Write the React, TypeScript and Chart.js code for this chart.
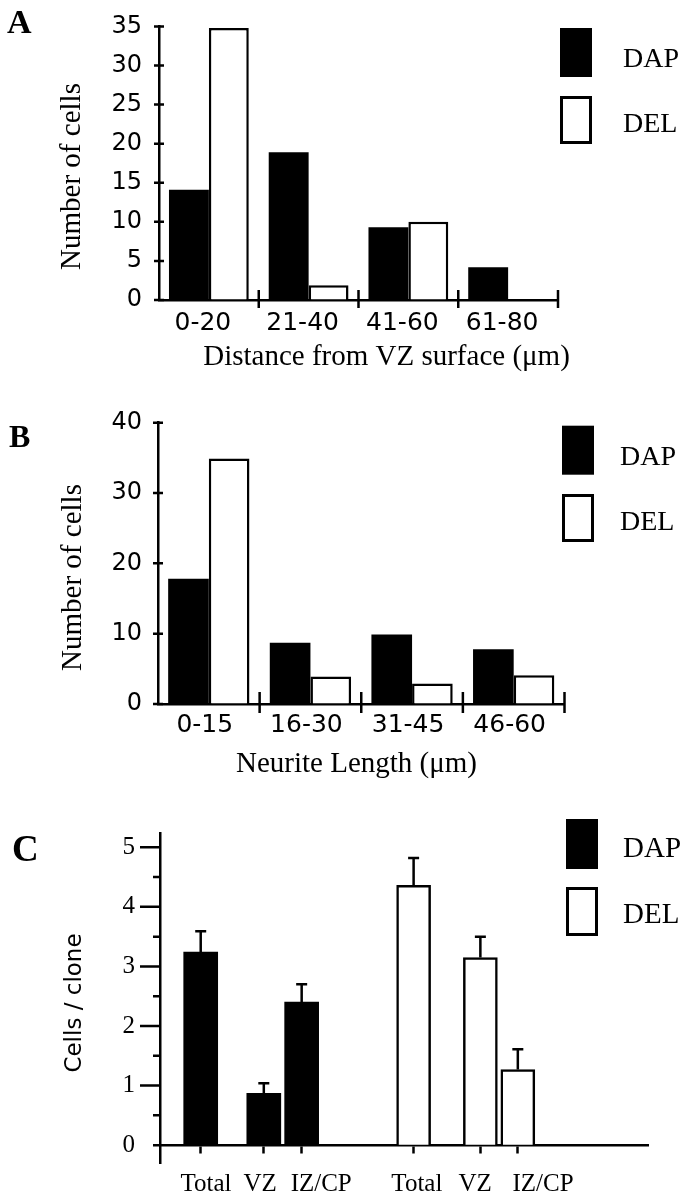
import React, { useEffect, useRef } from 'react';
import { Chart, registerables } from 'chart.js';

Chart.register(...registerables);

// ---------- DATA ----------
// Panel A
const distanceBins = ['0-20', '21-40', '41-60', '61-80'];
const dapDistance = [14.1, 18.9, 9.3, 4.2];
const delDistance = [34.8, 1.9, 10, 0];

// Panel B
const neuriteBins = ['0-15', '16-30', '31-45', '46-60'];
const dapNeurite = [17.8, 8.7, 9.9, 7.8];
const delNeurite = [34.9, 3.9, 2.9, 4.1];

// Panel C
const cloneCategories = ['Total', 'VZ', 'IZ/CP', 'Total', 'VZ', 'IZ/CP'];
const dapClone = [3.24, 0.87, 2.4];
const dapCloneErr = [0.35, 0.17, 0.3];
const delClone = [4.36, 3.15, 1.27];
const delCloneErr = [0.46, 0.35, 0.34];
const dapClonePositions = [1.0, 2.55, 3.48];
const delClonePositions = [6.23, 7.87, 8.79];
const cloneLabelPositions = [1.13, 2.46, 3.96, 6.31, 7.74, 9.41];
const cloneYTicks = [0, 0.5, 1, 1.5, 2, 2.5, 3, 3.5, 4, 4.5, 5];

const legendNames = ['DAP', 'DEL'];

// ---------- STYLE ----------
const SERIF = "'Liberation Serif', 'Times New Roman', serif";
const SANS = "'DejaVu Sans', sans-serif";
const LW = 2.5;

Chart.defaults.color = '#000';

type Decor = {
  letter: { text: string; x: number; y: number; size: number };
  yTitle: { text: string; x: number; y: number; font: string };
  xTitle?: { text: string; x: number; y: number; font: string };
  legend: {
    boxX: number;
    boxW: number;
    textX: number;
    font: string;
    items: { text: string; filled: boolean; y: number; h: number; textY: number }[];
  };
};

function decorPlugin(d: Decor) {
  return {
    id: 'decor',
    afterDraw(chart: any) {
      const ctx = chart.ctx as CanvasRenderingContext2D;
      ctx.save();
      ctx.fillStyle = '#000';
      ctx.strokeStyle = '#000';
      ctx.font = `bold ${d.letter.size}px ${SERIF}`;
      ctx.textAlign = 'left';
      ctx.textBaseline = 'alphabetic';
      ctx.fillText(d.letter.text, d.letter.x, d.letter.y);
      ctx.save();
      ctx.font = d.yTitle.font;
      ctx.translate(d.yTitle.x, d.yTitle.y);
      ctx.rotate(-Math.PI / 2);
      ctx.textAlign = 'center';
      ctx.textBaseline = 'alphabetic';
      ctx.fillText(d.yTitle.text, 0, 0);
      ctx.restore();
      if (d.xTitle) {
        ctx.font = d.xTitle.font;
        ctx.textAlign = 'center';
        ctx.textBaseline = 'alphabetic';
        ctx.fillText(d.xTitle.text, d.xTitle.x, d.xTitle.y);
      }
      const lg = d.legend;
      lg.items.forEach((it) => {
        if (it.filled) {
          ctx.fillRect(lg.boxX, it.y, lg.boxW, it.h);
        } else {
          ctx.lineWidth = 3;
          ctx.strokeRect(lg.boxX + 1.5, it.y + 1.5, lg.boxW - 3, it.h - 3);
        }
        ctx.font = lg.font;
        ctx.textAlign = 'left';
        ctx.textBaseline = 'alphabetic';
        ctx.fillText(it.text, lg.textX, it.textY);
      });
      ctx.restore();
    },
  };
}

function histTicksPlugin(yIn: number, yOut: number, xIn: number, xOut: number) {
  return {
    id: 'histTicks',
    afterDraw(chart: any) {
      const { ctx, chartArea: ca, scales } = chart;
      const x = scales.x;
      const y = scales.y;
      ctx.save();
      ctx.strokeStyle = '#000';
      ctx.lineWidth = LW;
      ctx.beginPath();
      y.ticks.forEach((t: any) => {
        const py = y.getPixelForValue(t.value);
        ctx.moveTo(ca.left - yOut, py);
        ctx.lineTo(ca.left + yIn, py);
      });
      const n = x.ticks.length;
      for (let k = 1; k <= n; k++) {
        const px = k < n ? (x.getPixelForValue(k - 1) + x.getPixelForValue(k)) / 2 : ca.right;
        ctx.moveTo(px, ca.bottom - xIn);
        ctx.lineTo(px, ca.bottom + xOut);
      }
      ctx.stroke();
      ctx.restore();
    },
  };
}

function histConfig(opts: {
  labels: string[];
  dap: number[];
  del: number[];
  yMax: number;
  yStep: number;
  padding: { left: number; right: number; top: number; bottom: number };
  yWidth: number;
  xLabelGap: number;
  xLabelShift: number;
  yLabelGap: number;
  plugins: any[];
}): any {
  return {
    type: 'bar',
    data: {
      labels: opts.labels,
      datasets: [
        { label: legendNames[0], data: opts.dap, backgroundColor: '#000', borderColor: '#000', borderWidth: 0 },
        { label: legendNames[1], data: opts.del, backgroundColor: '#fff', borderColor: '#000', borderWidth: LW },
      ],
    },
    options: {
      responsive: false,
      animation: false,
      devicePixelRatio: 1,
      layout: { padding: opts.padding },
      datasets: { bar: { categoryPercentage: 0.8, barPercentage: 1 } },
      plugins: { legend: { display: false }, tooltip: { enabled: false } },
      scales: {
        x: {
          type: 'category',
          offset: true,
          grid: { display: true, drawOnChartArea: false, offset: true, tickLength: opts.xLabelGap, tickColor: 'transparent' },
          border: { display: true, color: '#000', width: LW },
          ticks: {
            color: '#000',
            font: { family: SANS, size: 25 },
            padding: 0,
            labelOffset: opts.xLabelShift,
            maxRotation: 0,
            minRotation: 0,
            autoSkip: false,
          },
          afterFit: (s: any) => {
            s.height = 60;
          },
        },
        y: {
          min: 0,
          max: opts.yMax,
          grid: { display: true, drawOnChartArea: false, tickLength: 5, tickColor: 'transparent' },
          border: { display: true, color: '#000', width: LW },
          ticks: { stepSize: opts.yStep, color: '#000', font: { family: SANS, size: 24 }, padding: opts.yLabelGap },
          afterFit: (s: any) => {
            s.width = opts.yWidth;
          },
        },
      },
    },
    plugins: opts.plugins,
  };
}

function configA(): any {
  return histConfig({
    labels: distanceBins,
    dap: dapDistance,
    del: delDistance,
    yMax: 35,
    yStep: 5,
    padding: { left: 0, right: 130, top: 17, bottom: 30 },
    yWidth: 159,
    xLabelGap: 8,
    xLabelShift: -6,
    yLabelGap: 12,
    plugins: [
      histTicksPlugin(5, 5, 10, 8),
      decorPlugin({
        letter: { text: 'A', x: 7, y: 33, size: 34 },
        yTitle: { text: 'Number of cells', x: 80, y: 176.5, font: `29px ${SERIF}` },
        xTitle: { text: 'Distance from VZ surface (μm)', x: 386.5, y: 365, font: `29px ${SERIF}` },
        legend: {
          boxX: 560,
          boxW: 32,
          textX: 623,
          font: `28px ${SERIF}`,
          items: [
            { text: legendNames[0], filled: true, y: 28, h: 49, textY: 66.5 },
            { text: legendNames[1], filled: false, y: 96, h: 48, textY: 131.5 },
          ],
        },
      }),
    ],
  });
}

function configB(): any {
  return histConfig({
    labels: neuriteBins,
    dap: dapNeurite,
    del: delNeurite,
    yMax: 40,
    yStep: 10,
    padding: { left: 0, right: 123.5, top: 32.7, bottom: 26 },
    yWidth: 158,
    xLabelGap: 6,
    xLabelShift: -4,
    yLabelGap: 11,
    plugins: [
      histTicksPlugin(5, 5, 12, 9),
      decorPlugin({
        letter: { text: 'B', x: 9, y: 57, size: 32 },
        yTitle: { text: 'Number of cells', x: 81, y: 187.5, font: `29px ${SERIF}` },
        xTitle: { text: 'Neurite Length (μm)', x: 356.5, y: 382, font: `29px ${SERIF}` },
        legend: {
          boxX: 562,
          boxW: 32,
          textX: 620,
          font: `28px ${SERIF}`,
          items: [
            { text: legendNames[0], filled: true, y: 35.7, h: 49, textY: 75 },
            { text: legendNames[1], filled: false, y: 104, h: 48, textY: 140 },
          ],
        },
      }),
    ],
  });
}

const cloneExtrasPlugin = {
  id: 'cloneExtras',
  afterDraw(chart: any) {
    const { ctx, chartArea: ca, scales } = chart;
    const y = scales.y;
    ctx.save();
    ctx.strokeStyle = '#000';
    ctx.lineWidth = LW;
    ctx.beginPath();
    cloneYTicks.forEach((v) => {
      const py = y.getPixelForValue(v);
      const len = Number.isInteger(v) && v > 0 ? 20 : 7;
      ctx.moveTo(ca.left - len, py);
      ctx.lineTo(ca.left, py);
    });
    chart.data.datasets.forEach((ds: any, i: number) => {
      const meta = chart.getDatasetMeta(i);
      meta.data.forEach((bar: any, j: number) => {
        const v = ds.data[j].y + ds.errors[j];
        const top = y.getPixelForValue(v);
        ctx.moveTo(bar.x, bar.y);
        ctx.lineTo(bar.x, top);
        ctx.moveTo(bar.x - 5.5, top);
        ctx.lineTo(bar.x + 5.5, top);
      });
    });
    ctx.stroke();
    ctx.restore();
  },
};

function configC(): any {
  return {
    type: 'bar',
    data: {
      datasets: [
        {
          label: legendNames[0],
          data: dapClone.map((v, i) => ({ x: dapClonePositions[i], y: v })),
          errors: dapCloneErr,
          backgroundColor: '#000',
          borderColor: '#000',
          borderWidth: 0,
          grouped: false,
          barThickness: 34,
        },
        {
          label: legendNames[1],
          data: delClone.map((v, i) => ({ x: delClonePositions[i], y: v })),
          errors: delCloneErr,
          backgroundColor: '#fff',
          borderColor: '#000',
          borderWidth: LW,
          grouped: false,
          barThickness: 34,
        },
      ],
    },
    options: {
      responsive: false,
      animation: false,
      devicePixelRatio: 1,
      layout: { padding: { left: 0, right: 39.5, top: 43, bottom: 37 } },
      plugins: { legend: { display: false }, tooltip: { enabled: false } },
      scales: {
        x: {
          type: 'linear',
          position: { y: 0 },
          offset: false,
          min: 0,
          max: 12,
          afterBuildTicks: (s: any) => {
            s.ticks = [...dapClonePositions, ...delClonePositions].map((v) => ({ value: v }));
          },
          grid: { display: true, drawOnChartArea: false, offset: false, tickLength: 7, tickColor: '#000', tickWidth: LW },
          border: { display: true, color: '#000', width: LW },
          ticks: { display: false },
        },
        xLabels: {
          type: 'linear',
          axis: 'x',
          position: { y: 0 },
          offset: false,
          min: 0,
          max: 12,
          afterBuildTicks: (s: any) => {
            s.ticks = cloneLabelPositions.map((v) => ({ value: v }));
          },
          grid: { display: false, drawTicks: false, offset: false },
          border: { display: false },
          ticks: {
            color: '#000',
            font: { family: SERIF, size: 25 },
            padding: 24,
            maxRotation: 0,
            minRotation: 0,
            autoSkip: false,
            callback: (_v: any, i: number) => cloneCategories[i],
          },
        },
        y: {
          min: -0.3,
          max: 5.24,
          afterBuildTicks: (s: any) => {
            s.ticks = cloneYTicks.map((v) => ({ value: v }));
          },
          grid: { display: true, drawOnChartArea: false, tickLength: 20, tickColor: 'transparent' },
          border: { display: true, color: '#000', width: LW },
          ticks: {
            color: '#000',
            font: { family: SERIF, size: 25 },
            padding: 5,
            autoSkip: false,
            callback: (v: number) => (Number.isInteger(v) ? String(v) : ''),
          },
          afterFit: (s: any) => {
            s.width = 160;
          },
        },
      },
    },
    plugins: [
      cloneExtrasPlugin,
      decorPlugin({
        letter: { text: 'C', x: 12, y: 71, size: 37 },
        yTitle: { text: 'Cells / clone', x: 81, y: 213, font: `23px ${SANS}` },
        legend: {
          boxX: 566,
          boxW: 32,
          textX: 623,
          font: `29px ${SERIF}`,
          items: [
            { text: legendNames[0], filled: true, y: 29, h: 50, textY: 66.7 },
            { text: legendNames[1], filled: false, y: 97, h: 49, textY: 133.3 },
          ],
        },
      }),
    ],
  };
}

function ChartCanvas({ top, height, makeConfig }: { top: number; height: number; makeConfig: () => any }) {
  const ref = useRef<HTMLCanvasElement>(null);
  useEffect(() => {
    const chart = new Chart(ref.current as HTMLCanvasElement, makeConfig());
    return () => chart.destroy();
  }, []);
  return (
    <canvas
      ref={ref}
      width={688}
      height={height}
      style={{ position: 'absolute', left: 0, top, width: 688, height, display: 'block' }}
    />
  );
}

export default function App() {
  return (
    <div style={{ position: 'absolute', left: 0, top: 0, width: 688, height: 1200, background: '#fff' }}>
      <ChartCanvas top={0} height={390} makeConfig={configA} />
      <ChartCanvas top={390} height={400} makeConfig={configB} />
      <ChartCanvas top={790} height={410} makeConfig={configC} />
    </div>
  );
}
